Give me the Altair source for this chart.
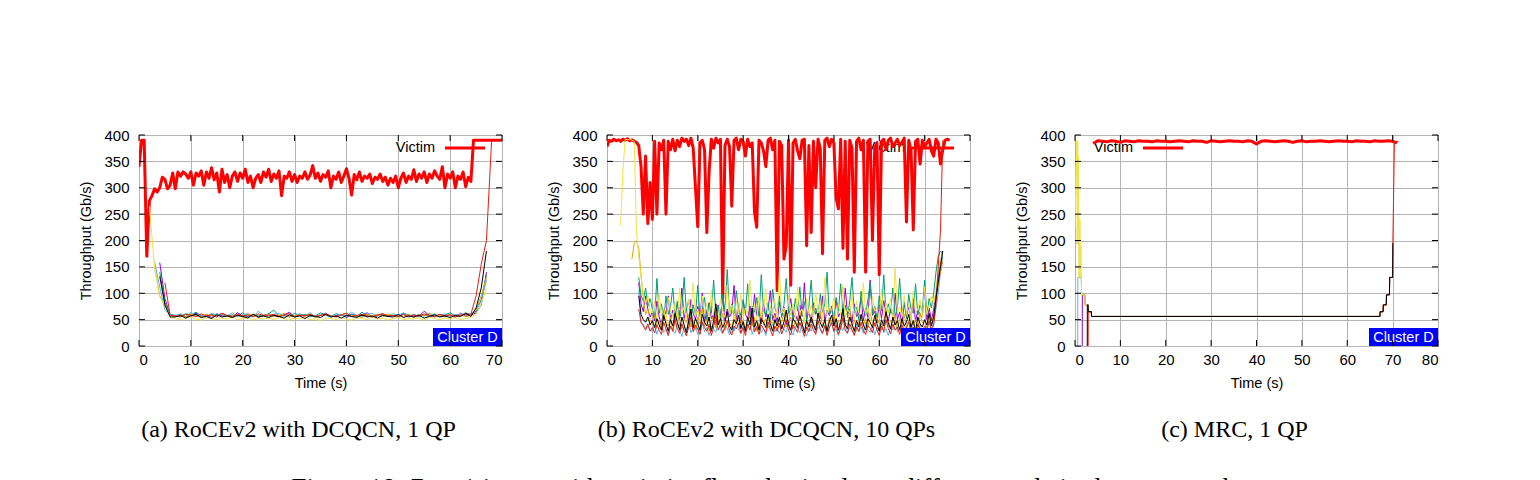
import altair as alt
import pandas as pd

W, H = 363, 211
SANS = "Liberation Sans"
SERIF = "Liberation Serif"

FLOW_NAMES = ["purple", "green", "lightblue", "orange", "yellow", "red", "black"]
FLOW_COLORS = ["#9400D3", "#009E73", "#56B4E9", "#E69F00", "#F0E442", "#E51E10", "#000000"]
VICTIM_COLOR = "#FF0000"
Y_TICKS = list(range(0, 401, 50))

# ---------------- (a) RoCEv2 with DCQCN, 1 QP : 0.5 s victim samples ----------------
A_VICTIM = [
    340, 390, 390, 170, 275, 285, 298, 292, 300, 320,
    316, 298, 305, 328, 298, 330, 322, 330, 326, 318,
    330, 305, 328, 322, 332, 305, 330, 318, 338, 315,
    328, 292, 335, 310, 325, 300, 322, 330, 312, 328,
    318, 335, 310, 322, 300, 318, 325, 310, 330, 320,
    335, 312, 326, 318, 332, 285, 322, 318, 330, 312,
    325, 310, 322, 318, 330, 316, 324, 342, 318, 328,
    312, 325, 320, 332, 300, 322, 316, 330, 310, 322,
    336, 318, 286, 325, 315, 330, 312, 322, 318, 326,
    308, 320, 316, 326, 312, 320, 305, 318, 310, 322,
    300, 318, 328, 310, 322, 316, 334, 312, 326, 318,
    330, 310, 326, 318, 332, 322, 316, 340, 300, 326,
    318, 330, 300, 322, 316, 330, 302, 320, 312, 390,
    390, 390, 390, 390, 390, 390, 390, 390, 390, 390,
    390,
]

# incast flows, 1 s samples, first sample time per flow
A_START = {"purple": 4, "green": 4, "lightblue": 3, "orange": 3, "yellow": 2, "red": 5, "black": 4}
A_FLOWS = {
    "yellow": [265, 150, 92, 78, 56] + [
        52, 50, 53, 55, 51, 49, 54, 52, 50, 53,
        51, 55, 50, 52, 54, 49, 52, 51, 53, 50,
        54, 52, 49, 53, 51, 55, 50, 52, 48, 53,
        52, 50, 54, 51, 49, 53, 52, 50, 55, 51,
        53, 49, 52, 54, 50, 52, 51, 53, 49, 55,
        52, 50, 53, 51, 54, 50, 52] + [55, 60, 80, 110],
    "lightblue": [160, 112, 68, 60] + [
        58, 61, 56, 64, 57, 59, 55, 62, 58, 60,
        57, 63, 56, 59, 61, 55, 66, 58, 57, 60,
        62, 56, 59, 58, 61, 57, 63, 55, 60, 58,
        56, 61, 59, 57, 64, 58, 55, 60, 62, 57,
        59, 56, 61, 58, 63, 57, 60, 55, 59, 62,
        58, 56, 61, 57, 60, 58, 63] + [60, 68, 85, 125],
    "orange": [150, 95, 76, 58] + [
        56, 59, 55, 61, 57, 54, 60, 58, 55, 62,
        57, 56, 59, 54, 61, 58, 55, 57, 60, 56,
        58, 62, 55, 57, 59, 56, 61, 54, 58, 60,
        57, 55, 59, 62, 56, 58, 54, 60, 57, 59,
        55, 61, 57, 58, 56, 60, 54, 59, 57, 62,
        56, 58, 55, 60, 57, 59, 56] + [58, 70, 95, 130],
    "purple": [158, 90, 58] + [
        57, 60, 55, 58, 62, 56, 59, 54, 61, 57,
        58, 55, 63, 57, 56, 60, 54, 58, 61, 57,
        55, 59, 64, 56, 58, 57, 60, 55, 58, 62,
        56, 57, 59, 54, 60, 57, 58, 63, 55, 57,
        60, 56, 58, 54, 61, 57, 59, 56, 66, 58,
        55, 60, 57, 59, 55, 62, 57] + [58, 63, 78, 140],
    "green": [140, 82, 60] + [
        58, 56, 61, 59, 64, 57, 55, 60, 58, 62,
        56, 59, 57, 63, 55, 60, 58, 56, 61, 68,
        57, 59, 55, 62, 58, 60, 56, 57, 63, 59,
        55, 61, 58, 57, 60, 56, 64, 58, 55, 59,
        61, 57, 58, 56, 62, 59, 55, 60, 58, 57,
        61, 56, 59, 63, 57, 58, 60] + [60, 66, 88, 135],
    "red": [120, 58] + [
        57, 55, 60, 58, 56, 61, 57, 59, 55, 62,
        58, 56, 60, 57, 59, 55, 61, 58, 57, 60,
        56, 58, 62, 55, 59, 57, 60, 56, 58, 61,
        57, 55, 59, 62, 56, 58, 60, 57, 55, 59,
        61, 57, 58, 56, 60, 55, 59, 57, 61, 58,
        56, 60, 57, 59, 55, 58, 61] + [60, 95, 155, 200, 390],
    "black": [132, 78, 55] + [
        55, 58, 53, 57, 60, 54, 56, 52, 59, 55,
        57, 54, 58, 56, 53, 60, 55, 57, 54, 58,
        56, 53, 59, 55, 57, 52, 58, 56, 54, 60,
        55, 57, 53, 58, 56, 54, 59, 55, 57, 53,
        58, 56, 55, 60, 54, 57, 55, 58, 53, 56,
        59, 55, 57, 54, 58, 56, 62] + [56, 72, 110, 180],
}

# ---------------- (b) RoCEv2 with DCQCN, 10 QPs : 0.5 s samples ----------------
B_VICTIM = [
    378, 390, 388, 392, 389, 391, 388, 392, 390, 393,
    389, 391, 388, 386, 380, 340, 250, 360, 232, 310,
    240, 388, 250, 385, 372, 390, 250, 388, 372, 392,
    370, 390, 378, 394, 388, 392, 380, 394, 375, 300,
    226, 385, 390, 372, 215, 330, 392, 375, 394, 385,
    392, 90, 380, 392, 378, 265, 390, 394, 372, 392,
    388, 360, 392, 378, 385, 255, 225, 390, 385, 370,
    340, 390, 394, 372, 390, 105, 388, 380, 165, 190,
    390, 115, 385, 392, 370, 355, 390, 392, 190, 380,
    215, 388, 300, 392, 375, 175, 390, 394, 378, 392,
    385, 280, 260, 392, 185, 388, 165, 390, 375, 140,
    388, 394, 372, 390, 140, 388, 392, 200, 376, 385,
    135, 388, 392, 372, 390, 394, 378, 385, 392, 380,
    386, 394, 235, 390, 372, 220, 388, 392, 345, 390,
    378, 385, 392, 370, 360, 392, 385, 345, 372, 390,
    392, 390,
]

B_START = {"purple": 7, "green": 7, "lightblue": 7, "orange": 5.5, "yellow": 3, "red": 7, "black": 7}
B_FLOWS = {
    "purple": [120, 80, 65, 95, 70, 55] + [
        65, 48, 85, 55, 40, 72, 60, 95, 50, 68,
        45, 80, 58, 110, 52, 70, 42, 88, 62, 50,
        75, 56, 100, 45, 66, 82, 52, 60, 40, 78,
        58, 92, 48, 70, 55, 64, 115, 50, 72, 44,
        85, 60, 52, 76, 48, 98, 58, 66, 42, 80,
        55, 70, 105, 50, 62, 46, 84, 58, 74, 40,
        68, 90, 52, 60, 48, 78, 56, 120, 50, 66,
        44, 82, 60, 72, 52, 95, 46, 68, 58, 76,
        42, 88, 55, 64, 50, 110, 60, 70, 45, 80,
        56, 62, 92, 48, 72, 54, 125, 58, 66, 44,
        78, 52, 86, 60, 48, 70, 56, 100, 50, 64,
        42, 82, 58, 74, 52, 90, 46, 68, 60, 55,
        110, 50, 72, 48] + [70, 100, 130, 160, 180],
    "green": [130, 95, 85, 110, 75, 90] + [
        70, 55, 128, 62, 80, 48, 95, 60, 75, 110,
        58, 85, 50, 72, 130, 65, 88, 52, 78, 60,
        115, 55, 70, 92, 48, 82, 62, 125, 58, 76,
        50, 98, 66, 145, 60, 80, 54, 105, 70, 58,
        88, 62, 118, 52, 76, 64, 92, 56, 135, 68,
        58, 82, 50, 108, 72, 60, 95, 54, 78, 128,
        62, 70, 52, 90, 66, 112, 58, 84, 48, 76,
        125, 60, 72, 55, 98, 64, 80, 140, 58, 70,
        52, 92, 66, 118, 60, 78, 54, 86, 130, 62,
        74, 50, 104, 68, 58, 88, 120, 60, 76, 54,
        95, 66, 135, 58, 80, 62, 110, 56, 72, 128,
        60, 84, 52, 98, 70, 62, 118, 58, 78, 66,
        125, 60, 90, 72] + [100, 140, 170, 180, 175],
    "lightblue": [105, 45, 40, 34, 38, 30] + [
        28, 40, 22, 35, 45, 26, 32, 20, 38, 30,
        24, 42, 33, 18, 36, 28, 48, 25, 34, 40,
        22, 30, 44, 27, 35, 20, 38, 32, 26, 50,
        30, 23, 40, 34, 21, 37, 28, 45, 31, 24,
        39, 26, 33, 48, 22, 36, 29, 41, 25, 34,
        20, 38, 30, 44, 27, 35, 23, 40, 32, 26,
        46, 29, 21, 37, 33, 25, 42, 30, 19, 35,
        28, 44, 24, 36, 31, 22, 40, 27, 34, 48,
        26, 32, 20, 38, 29, 43, 25, 35, 30, 22,
        41, 28, 36, 24, 45, 31, 26, 38, 21, 34,
        29, 42, 25, 33, 20, 37, 30, 46, 27, 35,
        23, 39, 31, 26, 44, 28, 34, 22, 40, 30,
        25, 36, 48, 32] + [45, 70, 100, 140, 170],
    "orange": [165, 195, 200] + [185, 135, 90, 60, 70, 50] + [
        42, 58, 35, 50, 30, 62, 45, 38, 55, 28,
        48, 66, 40, 32, 52, 44, 60, 36, 47, 30,
        55, 42, 70, 38, 50, 28, 46, 58, 34, 52,
        40, 62, 30, 48, 44, 36, 56, 42, 74, 35,
        50, 32, 46, 60, 38, 54, 28, 45, 65, 40,
        52, 34, 48, 42, 58, 30, 50, 44, 62, 36,
        46, 55, 32, 48, 40, 68, 38, 52, 30, 45,
        58, 42, 35, 50, 64, 38, 46, 30, 54, 42,
        60, 36, 48, 32, 56, 44, 40, 66, 35, 50,
        28, 46, 58, 40, 52, 34, 62, 45, 38, 55,
        42, 30, 50, 68, 36, 48, 44, 58, 32, 52,
        40, 60, 35, 47, 55, 38, 50, 30, 62, 44,
        48, 36, 56, 42] + [60, 90, 115, 140, 160],
    "yellow": [228, 330, 392, 391, 392, 390, 388, 215] + [170, 130, 100, 80, 95, 70] + [
        62, 85, 50, 100, 58, 72, 45, 92, 66, 55,
        80, 48, 110, 60, 75, 52, 88, 64, 120, 56,
        70, 46, 95, 62, 82, 50, 105, 58, 74, 44,
        90, 66, 54, 115, 60, 78, 48, 86, 62, 100,
        52, 72, 58, 125, 64, 80, 46, 94, 56, 70,
        108, 50, 76, 60, 88, 54, 140, 62, 72, 48,
        96, 58, 80, 52, 112, 64, 70, 46, 90, 60,
        78, 55, 102, 62, 84, 50, 130, 58, 74, 66,
        92, 48, 80, 60, 115, 54, 70, 62, 98, 50,
        86, 64, 56, 120, 60, 76, 48, 94, 66, 72,
        52, 108, 58, 82, 62, 90, 50, 150, 64, 74,
        56, 96, 60, 80, 48, 104, 62, 70, 88, 54,
        112, 60, 76, 95] + [80, 110, 140, 165, 175],
    "red": [70, 45, 38, 30, 42, 28] + [
        35, 25, 40, 30, 22, 45, 32, 20, 38, 28,
        50, 33, 24, 42, 30, 19, 36, 55, 27, 40,
        32, 22, 46, 35, 28, 41, 20, 36, 58, 30,
        40, 25, 34, 48, 29, 21, 38, 32, 44, 24,
        35, 20, 42, 30, 52, 27, 37, 22, 40, 33,
        25, 46, 31, 19, 38, 28, 43, 23, 34, 50,
        30, 21, 40, 33, 26, 45, 31, 18, 36, 27,
        42, 30, 22, 48, 33, 25, 38, 20, 35, 44,
        28, 40, 22, 34, 53, 30, 24, 42, 31, 20,
        36, 27, 45, 30, 22, 39, 34, 25, 44, 31,
        20, 38, 28, 50, 33, 23, 42, 30, 36, 22,
        40, 28, 34, 46, 26, 36, 20, 42, 31, 27,
        38, 30, 47, 28] + [40, 80, 150, 220, 390],
    "black": [95, 60, 50, 45, 55, 40] + [
        48, 35, 52, 40, 30, 58, 42, 28, 50, 38,
        62, 45, 30, 55, 40, 25, 48, 70, 35, 52,
        42, 30, 60, 45, 38, 55, 28, 48, 80, 40,
        52, 35, 45, 65, 38, 30, 50, 42, 58, 33,
        46, 28, 55, 40, 72, 36, 48, 30, 52, 44,
        35, 60, 42, 28, 50, 38, 55, 32, 46, 68,
        40, 30, 52, 45, 35, 58, 42, 25, 48, 36,
        55, 40, 30, 62, 44, 35, 50, 28, 46, 58,
        38, 52, 30, 45, 70, 40, 33, 55, 42, 28,
        48, 36, 60, 40, 30, 52, 45, 35, 58, 42,
        28, 50, 38, 65, 44, 32, 55, 40, 48, 30,
        52, 38, 45, 60, 35, 48, 28, 55, 42, 36,
        50, 40, 62, 38] + [55, 90, 120, 150, 180],
}

# ---------------- (c) MRC, 1 QP : victim at 1 s, flows as rate steps ----------------
C_VICTIM_T0 = 4
C_VICTIM = [
    384, 389, 388, 387, 389, 388, 386, 389, 388, 387,
    389, 388, 388, 387, 389, 388, 388, 387, 388, 389,
    388, 387, 389, 388, 388, 386, 389, 388, 387, 388,
    389, 388, 388, 387, 389, 388, 383, 388, 389, 388,
    387, 388, 389, 388, 386, 388, 389, 387, 388, 388,
    389, 388, 387, 388, 389, 388, 388, 387, 389, 388,
    388, 387, 389, 388, 388, 389, 388, 385,
]
C_FLOWS = {
    "purple": ([1.6, 1.62, 2.2, 2.25, 2.9, 2.95, 3.6, 3.65, 67.2, 67.25, 67.9, 67.95, 68.6, 68.65, 69.3, 69.35, 70.0],
               [0, 97, 97, 78, 78, 65, 65, 56, 56, 65, 65, 78, 78, 97, 97, 130, 130]),
    "green": ([3.4, 3.6, 3.65, 67.2],
              [65, 65, 56, 56]),
    "lightblue": ([0.6, 0.62, 1.4, 1.45, 2.2, 2.25, 2.9, 2.95, 3.6, 3.65, 67.2, 67.25, 67.9],
                  [0, 130, 130, 97, 97, 78, 78, 65, 65, 56, 56, 65, 65]),
    "orange": ([0.0, 0.9, 0.95, 1.4, 1.45, 2.2, 2.25, 2.9, 2.95, 3.6, 3.65, 67.2, 67.25, 67.9, 67.95, 68.6],
               [195, 195, 130, 130, 97, 97, 78, 78, 65, 65, 56, 56, 65, 65, 78, 78]),
    "yellow": ([0.0, 0.4, 0.5, 0.6, 0.7, 0.8, 0.9, 0.95, 1.1, 1.2, 1.3, 1.4, 1.45, 2.2, 2.25, 2.9, 2.95,
                3.6, 3.65, 67.2, 67.25, 67.9, 67.95, 68.6, 68.65, 69.3],
               [225, 390, 200, 388, 200, 360, 195, 130, 240, 130, 190, 130, 97, 97, 78, 78, 65,
                65, 56, 56, 65, 65, 78, 78, 97, 97]),
    "red": ([2.9, 2.92, 3.6, 3.65, 67.2, 67.25, 67.9, 67.95, 68.6, 68.65, 69.3, 69.35, 70.0, 70.05, 70.4, 71.3],
            [0, 65, 65, 56, 56, 65, 65, 78, 78, 97, 97, 130, 130, 195, 388, 388]),
    "black": ([2.7, 2.72, 2.9, 2.95, 3.6, 3.65, 67.2, 67.25, 67.9, 67.95, 68.6, 68.65, 69.3, 69.35, 70.0, 70.05],
              [0, 78, 78, 65, 65, 56, 56, 65, 65, 78, 78, 97, 97, 130, 130, 195]),
}

CAPTIONS = ["(a) RoCEv2 with DCQCN, 1 QP", "(b) RoCEv2 with DCQCN, 10 QPs", "(c) MRC, 1 QP"]
FIGURE_CAPTION = "Figure 18: 7-to-1 incast with a victim flow destined to a different node in the same rack."


def on_grid(t0, step, n):
    return [round(t0 + step * i, 3) for i in range(n)]


def series(times, values):
    return pd.DataFrame({"t": times, "v": values, "k": list(range(len(values)))})


def panel(xmax, victim, flows, legend, caption, extra_text=None):
    X = alt.X("t:Q", scale=alt.Scale(domain=[0, xmax], nice=False, zero=False),
              axis=alt.Axis(values=list(range(0, xmax + 1, 10)), title="Time (s)"))
    Y = alt.Y("v:Q", scale=alt.Scale(domain=[0, 400], nice=False),
              axis=alt.Axis(values=Y_TICKS, title="Throughput (Gb/s)"))
    layers = []

    # key: label and sample line
    text_right, line_x0, line_x1 = legend
    key = pd.DataFrame({"label": ["Victim"]})
    layers.append(alt.Chart(key).mark_text(align="right", baseline="middle", font=SANS,
                                           fontSize=14.5, color="black")
                  .encode(x=alt.value(text_right), y=alt.value(13), text="label:N"))
    layers.append(alt.Chart(key).mark_rule(color=VICTIM_COLOR, strokeWidth=3)
                  .encode(x=alt.value(line_x0), x2=alt.value(line_x1), y=alt.value(13)))

    # victim flow
    layers.append(alt.Chart(victim).mark_line(color=VICTIM_COLOR, strokeWidth=3, clip=True,
                                              strokeJoin="round")
                  .encode(x=X, y=Y, order="k:Q"))

    # incast flows, black drawn last
    for name, color in zip(FLOW_NAMES, FLOW_COLORS):
        layers.append(alt.Chart(flows[name]).mark_line(color=color, strokeWidth=1, clip=True)
                      .encode(x=X, y=Y, order="k:Q"))

    # cluster tag
    tag = pd.DataFrame({"label": ["Cluster D"]})
    layers.append(alt.Chart(tag).mark_rect(color="#0000FF")
                  .encode(x=alt.value(W - 69), x2=alt.value(W), y=alt.value(H - 18), y2=alt.value(H)))
    layers.append(alt.Chart(tag).mark_text(color="white", font=SANS, fontSize=14.5,
                                           align="center", baseline="middle")
                  .encode(x=alt.value(W - 34.5), y=alt.value(H - 8.5), text="label:N"))

    # inward tick marks on all four sides
    xt = pd.DataFrame({"t": list(range(0, xmax + 1, 10))})
    yt = pd.DataFrame({"v": Y_TICKS})
    layers.append(alt.Chart(xt).mark_rule(color="black").encode(x=X, y=alt.value(H - 6), y2=alt.value(H)))
    layers.append(alt.Chart(xt).mark_rule(color="black").encode(x=X, y=alt.value(0), y2=alt.value(6)))
    layers.append(alt.Chart(yt).mark_rule(color="black").encode(y=Y, x=alt.value(0), x2=alt.value(6)))
    layers.append(alt.Chart(yt).mark_rule(color="black").encode(y=Y, x=alt.value(W - 6), x2=alt.value(W)))

    # sub-figure caption
    cap = pd.DataFrame({"label": [caption]})
    layers.append(alt.Chart(cap).mark_text(font=SERIF, fontSize=24, align="center", color="black")
                  .encode(x=alt.value(W / 2 - 22), y=alt.value(H + 84), text="label:N"))
    if extra_text is not None:
        fig = pd.DataFrame({"label": [extra_text]})
        layers.append(alt.Chart(fig).mark_text(font=SERIF, fontSize=27, align="center", color="black")
                      .encode(x=alt.value(160), y=alt.value(H + 143), text="label:N"))

    return alt.layer(*layers).properties(width=W, height=H)


# assemble data frames
a_victim = series(on_grid(0, 0.5, len(A_VICTIM)), A_VICTIM)
a_flows = {n: series(on_grid(A_START[n], 1, len(v)), v) for n, v in A_FLOWS.items()}

b_victim = series(on_grid(0, 0.5, len(B_VICTIM)), B_VICTIM)
b_flows = {n: series(on_grid(B_START[n], 0.5, len(v)), v) for n, v in B_FLOWS.items()}

c_victim = series(on_grid(C_VICTIM_T0, 1, len(C_VICTIM)), C_VICTIM)
c_flows = {n: series(tv[0], tv[1]) for n, tv in C_FLOWS.items()}

pa = panel(70, a_victim, a_flows, (296, 306, 346), CAPTIONS[0])
pb = panel(80, b_victim, b_flows, (298, 305, 347), CAPTIONS[1], FIGURE_CAPTION)
pc = panel(80, c_victim, c_flows, (58, 68, 108), CAPTIONS[2])

chart = (
    alt.hconcat(pa, pb, pc, spacing=105, bounds="flush")
    .properties(padding={"left": 78, "top": 127, "right": 0, "bottom": 0})
    .configure_view(stroke="#222222", strokeWidth=1)
    .configure_axis(labelFont=SANS, labelFontSize=15, labelColor="black",
                    titleFont=SANS, titleFontSize=14.5, titleFontWeight="normal", titleColor="black",
                    ticks=False, domain=False, grid=True, gridColor="#b4b4b4", gridWidth=1)
    .configure_axisX(labelPadding=6, titlePadding=9)
    .configure_axisY(labelPadding=10, titlePadding=10)
)

chart.save("out.html", embed_options={"renderer": "svg", "actions": False})
